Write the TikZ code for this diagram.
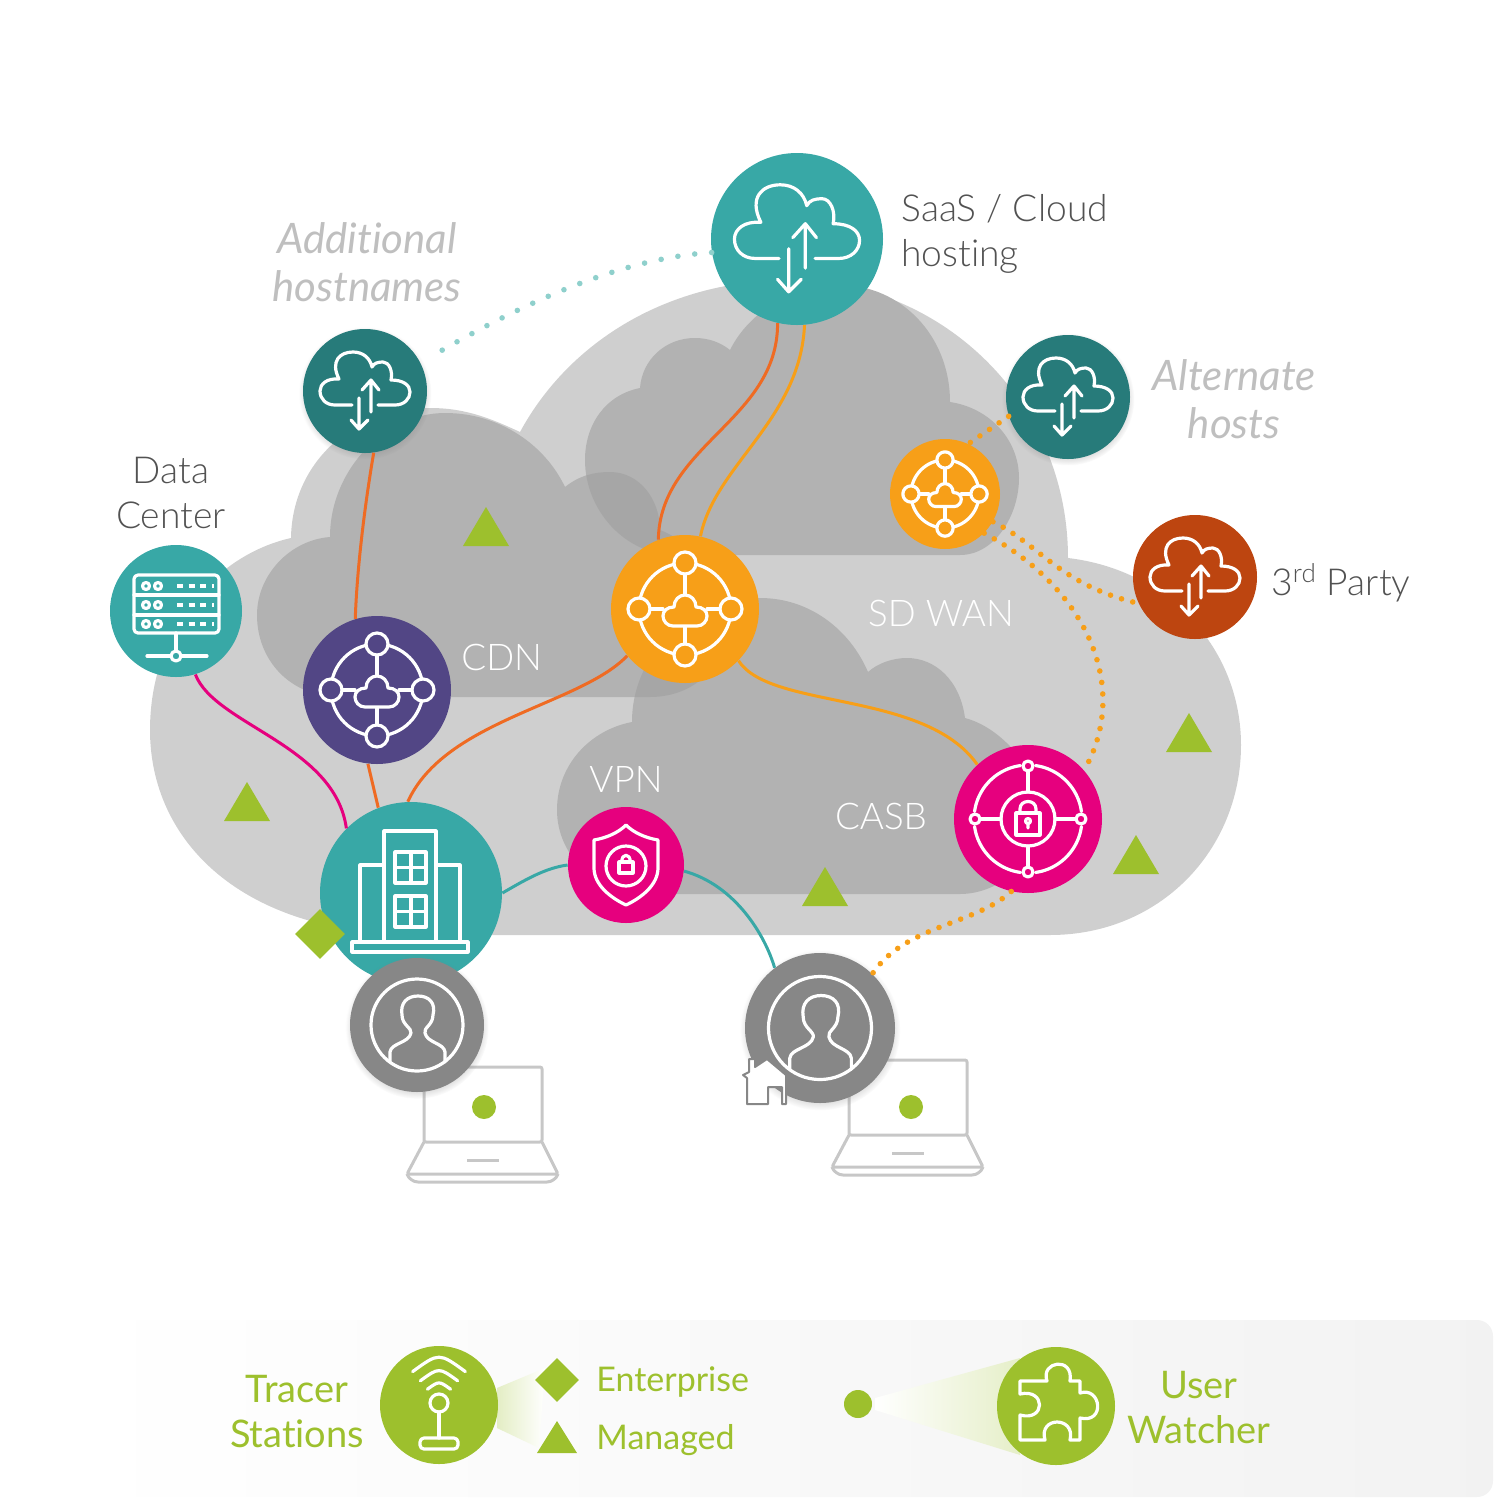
\documentclass[tikz,border=0pt]{standalone}
\usepackage{fontspec}
\usepackage{xcolor}
\usepackage{tikz}
\usetikzlibrary{shapes.geometric,shadows,fadings}
\setmainfont[Ligatures=NoCommon]{Lato}
\newfontfamily\lightfont[Ligatures=NoCommon]{Lato Light}

\definecolor{lightcloud}{HTML}{CFCFCF}
\definecolor{darkcloud}{HTML}{B2B2B2}
\definecolor{overlapcloud}{HTML}{A6A6A6}
\definecolor{tealnode}{HTML}{38A8A6}
\definecolor{deepteal}{HTML}{277B7A}
\definecolor{hubgold}{HTML}{F79F18}
\definecolor{hubpurple}{HTML}{524685}
\definecolor{pinknode}{HTML}{E6007E}
\definecolor{rustnode}{HTML}{BD4510}
\definecolor{usergray}{HTML}{878787}
\definecolor{tracergreen}{HTML}{9DC02D}
\definecolor{redlink}{HTML}{EF6B23}
\definecolor{pinklink}{HTML}{E6007E}
\definecolor{paletealdot}{HTML}{8FD0CC}

\tikzset{
    netnode/.style={circle, inner sep=0pt, minimum size=#1},
    softshadow/.style={circular drop shadow={shadow xshift=0pt, shadow yshift=-1pt, shadow scale=1.07, opacity=.35}},
    iconline/.style={draw=white, line width=1.6pt, line cap=round, line join=round},
    link/.style={line width=1.5pt},
    dotlink/.style={line width=2.8pt, line cap=round, dash pattern=on 0pt off 5.8pt},
    graylabel/.style={inner sep=0pt, text=black!68, align=center, font=\lightfont\fontsize{18.6}{22.5}\selectfont},
    whitelabel/.style={inner sep=0pt, text=white, font=\lightfont\fontsize{18.4}{22.5}\selectfont},
    handlabel/.style={inner sep=0pt, text=black!25, align=center, font=\itshape\fontsize{21}{24}\selectfont},
    greenlabel/.style={inner sep=0pt, text=tracergreen, align=center, font=\fontsize{19}{22.5}\selectfont},
    laptopline/.style={draw=black!22, line width=1.5pt, line join=round, rounded corners=1pt},
    cloudarrows/.pic={
        \draw[iconline] (-13,14) -- (-30,14) .. controls (-39,14) and (-45,8) .. (-45,0)
            .. controls (-45,-7) and (-38,-13) .. (-26,-12)
            .. controls (-35,-30) and (-25,-39) .. (-12,-39)
            .. controls (-2,-39) and (5,-33) .. (7,-24)
            .. controls (9,-28) and (13,-29) .. (18,-29)
            .. controls (24,-29) and (28,-20) .. (26,-11)
            .. controls (38,-11) and (45,-6) .. (45,1)
            .. controls (45,8) and (39,14) .. (30,14) -- (13,14);
        \draw[iconline] (6,21) -- (6,-11) (-3,-1) -- (6,-11) -- (14,-1);
        \draw[iconline] (-6,7) -- (-6,38) (-14,29) -- (-6,38) -- (3,29);
    },
    hubicon/.pic={
        \draw[iconline] (0,0) circle [radius=46];
        \draw[iconline] (0,-35) -- (0,-13) (0,17) -- (0,35) (-35,0) -- (-22,0) (22,0) -- (35,0);
        \draw[iconline, fill=#1] (-12,17) .. controls (-18,17) and (-22,12) .. (-22,7)
            .. controls (-22,2) and (-18,-2) .. (-11,-2)
            .. controls (-11,-9) and (-6,-14) .. (0,-14)
            .. controls (6,-14) and (11,-9) .. (11,-2)
            .. controls (18,-2) and (22,2) .. (22,7)
            .. controls (22,12) and (18,17) .. (12,17) -- cycle;
        \foreach \a/\b in {0/-46, 0/46, -46/0, 46/0}
            \draw[iconline, fill=#1] (\a,\b) circle [radius=11];
    },
    lockicon/.pic={
        \foreach \s/\e in {8/82, 98/172, 188/262, 278/352}
            \draw[iconline] plot[smooth, samples=12, domain=\s:\e] (\x:54);
        \draw[iconline] (0,0) circle [radius=27];
        \draw[iconline] (0,-48) -- (0,-27) (0,27) -- (0,48) (-48,0) -- (-27,0) (27,0) -- (48,0);
        \foreach \a/\b in {0/-53, 0/53, -53/0, 53/0}
            \draw[iconline, fill=pinknode] (\a,\b) circle [radius=5];
        \draw[iconline] (-12,-6) rectangle (12,16);
        \draw[iconline] (-8,-6) -- (-8,-10) .. controls (-8,-20) and (8,-20) .. (8,-10) -- (8,-6);
        \draw[iconline] (0,2) circle [radius=2.5] (0,5) -- (0,9);
    },
    shieldicon/.pic={
        \draw[iconline] (0,-40) .. controls (8,-32) and (20,-27) .. (32,-25) -- (32,3)
            .. controls (32,20) and (15,33) .. (0,40)
            .. controls (-15,33) and (-32,20) .. (-32,3) -- (-32,-25)
            .. controls (-20,-27) and (-8,-32) .. cycle;
        \draw[iconline] (0,1) circle [radius=20];
        \draw[iconline] (-7,-3) rectangle (7,8);
        \draw[iconline] (-4,-3) .. controls (-5,-12) and (5,-12) .. (4,-3);
    },
    servericon/.pic={
        \draw[iconline, rounded corners=2pt] (-42,-36) rectangle (43,22);
        \draw[iconline] (-42,-16) -- (43,-16) (-42,4) -- (43,4);
        \foreach \r in {-25,-6,13} {
            \draw[iconline] (-30,\r) circle [radius=3.5] (-18,\r) circle [radius=3.5];
            \draw[iconline, line cap=butt, dash pattern=on 3pt off 2.85pt] (1,\r) -- (38,\r);
        }
        \draw[iconline] (0,22) -- (0,40) (-29,45) -- (-5,45) (5,45) -- (31,45);
        \draw[iconline] (0,45) circle [radius=5];
    },
    buildingicon/.pic={
        \draw[iconline] (-27,48) -- (-27,-62) -- (25,-62) -- (25,48);
        \draw[iconline] (-27,-28) -- (-51,-28) -- (-51,48) (25,-28) -- (49,-28) -- (49,48);
        \draw[iconline] (-59,49) rectangle (57,59);
        \foreach \r in {-41,3} {
            \draw[iconline] (-16,\r) rectangle (15,\r+31);
            \draw[iconline] (0,\r) -- (0,\r+31) (-16,\r+15.5) -- (15,\r+15.5);
        }
    },
    usericon/.pic={
        \draw[iconline] (0,0) circle [radius=46];
        \draw[iconline] (-27,37) -- (-27,27) .. controls (-26,18) and (-8,18) .. (-6,8)
            .. controls (-5,3) and (-15,0) .. (-15,-10)
            .. controls (-17,-22) and (-10,-29) .. (1,-29)
            .. controls (12,-29) and (19,-22) .. (16,-10)
            .. controls (16,0) and (6,3) .. (8,8)
            .. controls (10,18) and (27,18) .. (28,27) -- (28,37);
    },
    laptopicon/.pic={
        \draw[laptopline] (424,1142) -- (424,1067) -- (542,1067) -- (542,1142) -- cycle;
        \draw[laptopline] (424,1142) -- (407,1174) -- (558,1174) -- (542,1142);
        \draw[laptopline, rounded corners=4pt] (407,1174) -- (410,1182) -- (555,1182) -- (558,1174);
        \draw[laptopline] (467,1160) -- (499,1160);
    },
    wifiicon/.pic={
        \draw[iconline] (0,-2) circle [radius=9];
        \draw[iconline] (0,7) -- (0,33);
        \draw[iconline, rounded corners=2pt] (-19,33) rectangle (19,44);
        \foreach \r in {18,29,41}
            \draw[iconline] (-.643*\r,-2-.766*\r) .. controls (0,-2-1.234*\r) .. (.643*\r,-2-.766*\r);
    },
    puzzleicon/.pic={
        \draw[iconline] (-36,-25) -- (-9,-25) .. controls (-16,-45) and (18,-50) .. (14,-25) -- (24,-25) -- (24,-13)
            .. controls (45,-20) and (50,18) .. (24,12) -- (24,34) -- (14,34)
            .. controls (20,10) and (-18,10) .. (-11,34) -- (-36,34) -- (-36,9)
            .. controls (-10,16) and (-10,-18) .. (-36,-12) -- cycle;
    }
}

\def\cdncloud{(340,697) .. controls (290,697) and (257,660) .. (257,615)
    .. controls (257,575) and (290,540) .. (330,537)
    .. controls (330,470) and (385,413) .. (445,413)
    .. controls (500,413) and (545,445) .. (565,487)
    .. controls (580,475) and (595,472) .. (610,472)
    .. controls (640,472) and (660,500) .. (660,530)
    .. controls (700,545) and (725,590) .. (725,630)
    .. controls (725,665) and (695,697) .. (650,697) -- cycle}
\def\wancloud{(960,555) .. controls (995,555) and (1019,515) .. (1019,478)
    .. controls (1019,440) and (990,408) .. (950,402)
    .. controls (950,335) and (900,285) .. (840,285)
    .. controls (795,285) and (750,310) .. (730,350)
    .. controls (720,342) and (708,338) .. (695,338)
    .. controls (665,338) and (642,360) .. (640,388)
    .. controls (605,395) and (585,425) .. (585,460)
    .. controls (585,510) and (625,555) .. (675,555) -- cycle}
\def\vpncloud{(650,894) -- (960,894) .. controls (1000,894) and (1040,860) .. (1040,815)
    .. controls (1045,785) and (1010,730) .. (965,718)
    .. controls (960,680) and (935,658) .. (907,658)
    .. controls (893,658) and (878,663) .. (868,672)
    .. controls (850,630) and (810,598) .. (760,598)
    .. controls (695,598) and (632,650) .. (632,722)
    .. controls (590,730) and (557,765) .. (557,810)
    .. controls (557,855) and (595,894) .. (650,894) -- cycle}

\begin{document}
\begin{tikzpicture}[x=0.5pt, y=-0.5pt]
    \useasboundingbox (0,0) rectangle (1501,1500);

    % clouds
    \fill[lightcloud] (420,935) -- (1050,935) .. controls (1160,935) and (1241,850) .. (1241,745)
        .. controls (1241,650) and (1170,570) .. (1068,558)
        .. controls (1068,400) and (940,280) .. (790,280)
        .. controls (670,280) and (570,340) .. (520,432)
        .. controls (490,418) and (465,408) .. (430,408)
        .. controls (350,408) and (292,465) .. (291,538)
        .. controls (215,555) and (150,630) .. (150,730)
        .. controls (150,840) and (240,935) .. (420,935) -- cycle;
    \fill[darkcloud] \cdncloud;
    \fill[darkcloud] \wancloud;
    \fill[darkcloud] \vpncloud;
    \begin{scope}
        \clip \cdncloud;
        \fill[overlapcloud] \wancloud;
        \fill[overlapcloud] \vpncloud;
    \end{scope}

    % legend band
    \shade[left color=white, right color=black!5, rounded corners=8pt] (80,1320) rectangle (1493,1497);
    \shade[left color=tracergreen!28, right color=white] (497,1388) -- (545,1368) -- (539,1448) -- (497,1428) -- cycle;
    \shade[left color=white, right color=tracergreen!26] (875,1398) -- (1020,1358) -- (1020,1455) -- (875,1410) -- cycle;

    % laptops
    \pic at (0,0) {laptopicon};
    \pic at (425,-7) {laptopicon};

    % managed tracers
    \foreach \x/\y in {486/507, 247/782, 1189/713, 825/867, 1136/835}
        \fill[tracergreen] (\x,\y) -- ++(23,39) -- ++(-46,0) -- cycle;
    \node[circle, fill=tracergreen, inner sep=0pt, minimum size=12pt] (dotone) at (484,1107) {};
    \node[circle, fill=tracergreen, inner sep=0pt, minimum size=12pt] (dottwo) at (911,1107) {};

    % network nodes
    \node[netnode=86pt, fill=tealnode] (saas) at (797,239) {};
    \node[netnode=62pt, fill=deepteal, softshadow] (extracloud) at (365,391) {};
    \node[netnode=55pt, fill=hubgold] (smallhub) at (945,494) {};
    \node[netnode=62pt, fill=deepteal, softshadow] (altcloud) at (1068,397) {};
    \node[netnode=62pt, fill=rustnode] (partycloud) at (1195,577) {};
    \node[netnode=66pt, fill=tealnode] (datacenter) at (176,611) {};
    \node[netnode=74pt, fill=hubpurple] (cdn) at (377,690) {};
    \node[netnode=74pt, fill=hubgold] (wanhub) at (685,609) {};
    \node[netnode=74pt, fill=pinknode] (casb) at (1028,819) {};
    \node[netnode=58pt, fill=pinknode] (vpn) at (626,865) {};
    \node[netnode=91pt, fill=tealnode] (office) at (411,893) {};
    \node[diamond, fill=tracergreen, inner sep=0pt, minimum size=25pt] (officemark) at (320,934) {};
    \node[netnode=67pt, fill=usergray, softshadow] (userone) at (417,1025) {};
    \node[netnode=75pt, fill=usergray, softshadow] (usertwo) at (820,1028) {};
    \fill[white, draw=usergray, line width=1pt, line join=round] (767,1059) -- (755,1067) -- (755,1059) -- (749,1059) -- (749,1072)
        -- (743,1075) -- (747,1078) -- (747,1104) -- (768,1104) -- (768,1087) -- (782,1087) -- (782,1104) -- (786,1104) -- (786,1075) -- cycle;

    % icons
    \pic[scale=1.39] at (saas) {cloudarrows};
    \pic at (extracloud) {cloudarrows};
    \pic at (altcloud) {cloudarrows};
    \pic at (partycloud) {cloudarrows};
    \pic[scale=.74] at (smallhub) {hubicon=hubgold};
    \pic at (cdn) {hubicon=hubpurple};
    \pic at (wanhub) {hubicon=hubgold};
    \pic at (casb) {lockicon};
    \pic at (vpn) {shieldicon};
    \pic at (datacenter) {servericon};
    \pic at (office) {buildingicon};
    \pic at (userone) {usericon};
    \pic[scale=1.12] at (usertwo) {usericon};

    % links
    \draw[link, redlink] (saas.-103) .. controls (778,420) and (660,445) .. (wanhub.111);
    \draw[link, hubgold] (saas.-85) .. controls (800,420) and (715,465) .. (wanhub.78);
    \draw[link, redlink] (extracloud.-82) .. controls (364,510) and (357,570) .. (cdn.107);
    \draw[link, redlink] (wanhub.-141) .. controls (580,705) and (445,720) .. (office.92);
    \draw[link, redlink] (cdn.-97) -- (office.111);
    \draw[link, pinklink] (datacenter.-73) .. controls (215,725) and (335,745) .. (office.135);
    \draw[link, tealnode] (office.0) .. controls (525,880) and (545,868) .. (vpn.180);
    \draw[link, tealnode] (vpn.-6) .. controls (735,885) and (765,935) .. (usertwo.127);
    \draw[link, hubgold] (wanhub.-44) .. controls (770,710) and (925,690) .. (casb.133);

    \draw[dotlink, paletealdot, dash pattern=on 0pt off 8.5pt, shorten >=9pt] (saas.-171) .. controls (620,258) and (520,305) .. (extracloud.27);
    \draw[dotlink, hubgold] (altcloud.-162) -- (smallhub.65);
    \draw[dotlink, hubgold] (smallhub.-30) .. controls (1040,545) and (1060,585) .. (partycloud.-155);
    \draw[dotlink, hubgold] (smallhub.-45) .. controls (1090,590) and (1130,690) .. (casb.41);
    \draw[dotlink, hubgold] (casb.-103) .. controls (975,925) and (905,925) .. (usertwo.46);

    % labels
    \node[graylabel, align=left, anchor=west] (saaslabel) at (901,234) {SaaS / Cloud\\hosting};
    \node[graylabel] (dclabel) at (171,493) {Data\\Center};
    \node[graylabel, anchor=west] (partylabel) at (1271,583) {3\textsuperscript{rd} Party};
    \node[handlabel] (extralabel) at (367,262) {Additional\\hostnames};
    \node[handlabel] (altlabel) at (1234,399) {Alternate\\hosts};
    \node[whitelabel, anchor=west] (cdnlabel) at (461,657) {CDN};
    \node[whitelabel] (wanlabel) at (941,613) {SD WAN};
    \node[whitelabel] (vpnlabel) at (626,779) {VPN};
    \node[whitelabel] (casblabel) at (881,816) {CASB};

    % legend
    \node[netnode=59pt, fill=tracergreen] (tracer) at (439,1405) {};
    \pic at (tracer) {wifiicon};
    \node[diamond, fill=tracergreen, inner sep=0pt, minimum size=22pt] (entmark) at (557,1380) {};
    \fill[tracergreen] (557,1421) -- (577,1453) -- (537,1453) -- cycle;
    \node[circle, fill=tracergreen, inner sep=0pt, minimum size=14pt] (userdot) at (858,1404) {};
    \node[netnode=59pt, fill=tracergreen] (watcher) at (1056,1406) {};
    \pic at (watcher) {puzzleicon};
    \node[greenlabel] (tracerlabel) at (297,1412) {Tracer\\Stations};
    \node[greenlabel, font=\fontsize{17}{20}\selectfont, anchor=west] (entlabel) at (596,1382) {Enterprise};
    \node[greenlabel, font=\fontsize{17}{20}\selectfont, anchor=west] (mgdlabel) at (596,1440) {Managed};
    \node[greenlabel] (watcherlabel) at (1199,1408) {User\\Watcher};
\end{tikzpicture}
\end{document}
